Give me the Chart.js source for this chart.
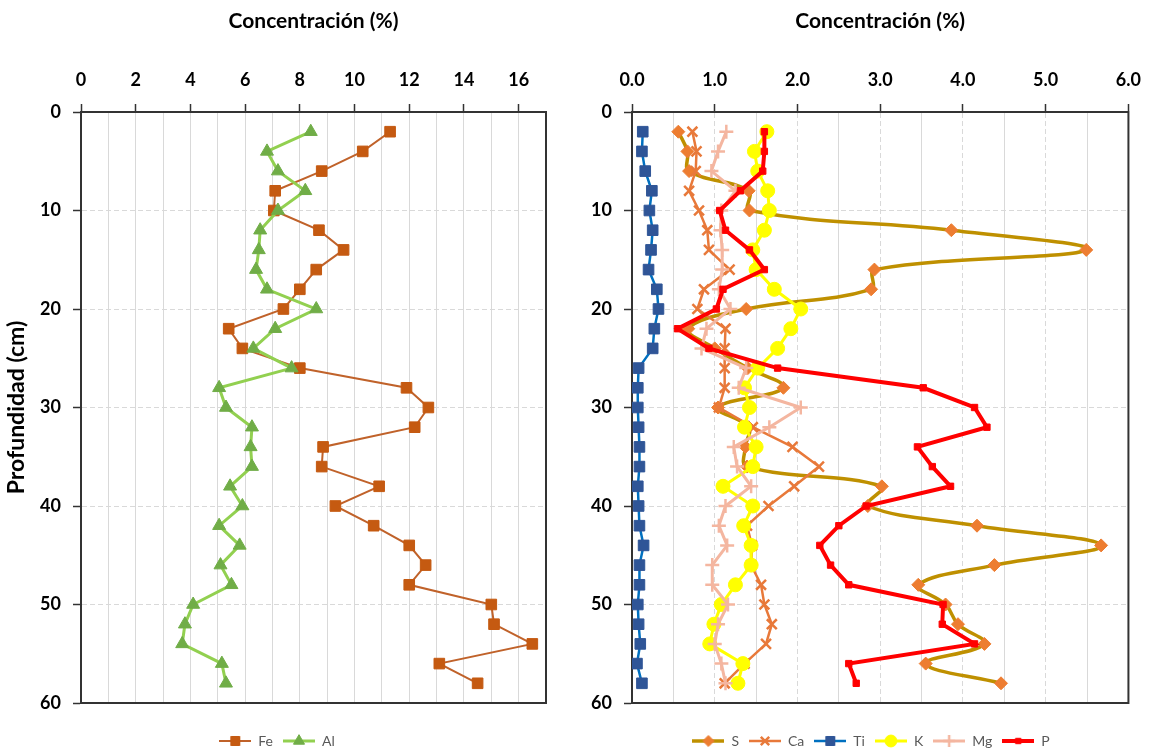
<!DOCTYPE html>
<html>
<head>
<meta charset="utf-8">
<title>Perfiles de concentración</title>
<script src="https://cdn.jsdelivr.net/npm/chart.js@4.4.1/dist/chart.umd.min.js"></script>
<style>
  html, body { margin: 0; padding: 0; background: #fff; }
  #wrap { position: relative; width: 1154px; height: 749px; }
  .panel { position: absolute; top: 0; width: 577px; height: 749px; }
</style>
</head>
<body>
<div id="wrap">
  <div class="panel" style="left:0"><canvas id="chartLeft"></canvas></div>
  <div class="panel" style="left:577px"><canvas id="chartRight"></canvas></div>
</div>
<script>
Chart.defaults.font.family = 'Lato, "Open Sans", sans-serif';
Chart.defaults.animation = false;

// profundidad de cada muestra (cm)
var depth = [2, 4, 6, 8, 10, 12, 14, 16, 18, 20, 22, 24, 26, 28, 30,
             32, 34, 36, 38, 40, 42, 44, 46, 48, 50, 52, 54, 56, 58];

// panel izquierdo (%)
var fe = [11.3, 10.3, 8.8, 7.1, 7.05, 8.7, 9.6, 8.6, 8.0, 7.4, 5.4, 5.9, 8.0, 11.9, 12.7,
          12.2, 8.85, 8.8, 10.9, 9.3, 10.7, 12.0, 12.6, 12.0, 15.0, 15.1, 16.5, 13.1, 14.5];
var al = [8.4, 6.8, 7.2, 8.2, 7.2, 6.55, 6.5, 6.4, 6.8, 8.6, 7.1, 6.3, 7.7, 5.05, 5.3,
          6.25, 6.2, 6.25, 5.45, 5.9, 5.05, 5.8, 5.1, 5.5, 4.1, 3.8, 3.7, 5.15, 5.3];

// panel derecho (%)
var s  = [0.56, 0.67, 0.69, 1.41, 1.42, 3.86, 5.49, 2.93, 2.89, 1.38, 0.68, 1.0, 1.40, 1.83, 1.04,
          1.41, 1.37, 1.39, 3.02, 2.85, 4.17, 5.67, 4.38, 3.46, 3.79, 3.94, 4.26, 3.55, 4.46];
var ca = [0.73, 0.78, 0.77, 0.69, 0.81, 0.91, 0.93, 1.18, 0.87, 0.79, 1.13, 1.12, 1.12, 1.12, 1.05,
          1.46, 1.94, 2.26, 1.96, 1.65, 1.39, 1.45, 1.44, 1.56, 1.60, 1.69, 1.62, 1.36, 1.12];
var ti = [0.13, 0.12, 0.16, 0.24, 0.21, 0.25, 0.23, 0.20, 0.30, 0.32, 0.27, 0.25, 0.08, 0.07, 0.07,
          0.08, 0.09, 0.09, 0.07, 0.08, 0.09, 0.14, 0.09, 0.09, 0.07, 0.08, 0.10, 0.06, 0.12];
var k  = [1.63, 1.48, 1.52, 1.64, 1.66, 1.60, 1.46, 1.50, 1.72, 2.04, 1.92, 1.76, 1.52, 1.36, 1.42,
          1.36, 1.50, 1.46, 1.10, 1.46, 1.35, 1.44, 1.44, 1.25, 1.08, 0.99, 0.94, 1.34, 1.28];
var mg = [1.14, 1.04, 0.96, 1.25, 1.08, 1.07, 1.09, 1.09, 1.05, 1.19, 0.90, 0.84, 1.38, 1.29, 2.04,
          1.66, 1.23, 1.27, 1.44, 1.13, 1.05, 1.15, 0.97, 0.97, 1.16, 1.04, 1.00, 1.08, 1.13];
var p  = [1.60, 1.60, 1.58, 1.31, 1.06, 1.13, 1.42, 1.60, 1.10, 1.02, 0.55, 0.93, 1.76, 3.52, 4.14,
          4.29, 3.45, 3.63, 3.85, 2.83, 2.50, 2.27, 2.40, 2.62, 3.76, 3.75, 4.14, 2.62, 2.71];

// etiquetas de los ejes
var ticksLeft = [0, 2, 4, 6, 8, 10, 12, 14, 16];
var ticksRight = [0, 1, 2, 3, 4, 5, 6];
var depthTicks = [0, 10, 20, 30, 40, 50, 60];

function serie(label, vals, color, marker, markerColor, width, radius, border) {
  return {
    label: label,
    data: depth.map(function (d, i) { return { x: vals[i], y: d }; }),
    showLine: true,
    borderColor: color,
    borderWidth: width,
    backgroundColor: markerColor,
    pointStyle: marker,
    pointRadius: radius,
    pointHoverRadius: radius,
    pointBackgroundColor: markerColor,
    pointBorderColor: markerColor,
    pointBorderWidth: border || 1,
    tension: 0
  };
}

// icono de leyenda estilo Excel: linea + marcador
function legendIcon(ds) {
  var c = document.createElement('canvas');
  c.width = 32; c.height = 16;
  var g = c.getContext('2d');
  g.strokeStyle = ds.borderColor;
  g.lineWidth = ds.borderWidth;
  g.beginPath(); g.moveTo(0, 8); g.lineTo(32, 8); g.stroke();
  g.fillStyle = ds.pointBackgroundColor;
  g.strokeStyle = ds.pointBorderColor;
  g.lineWidth = ds.pointBorderWidth;
  Chart.helpers.drawPoint(g, { pointStyle: ds.pointStyle, radius: ds.pointRadius * 0.85,
    borderWidth: ds.pointBorderWidth, rotation: 0 }, 16, 8);
  return c;
}

// marco del area de trazado
var frame = {
  id: 'frame',
  beforeDatasetsDraw: function (chart) {
    var a = chart.chartArea, ctx = chart.ctx;
    ctx.save();
    ctx.strokeStyle = '#333';
    ctx.lineWidth = 2;
    ctx.strokeRect(a.left, a.top, a.right - a.left, a.bottom - a.top);
    ctx.restore();
  }
};

// ajuste fino de la posicion de la leyenda
var legendOffset = {
  id: 'legendOffset',
  afterLayout: function (chart, args, opts) {
    var lg = chart.legend;
    lg.left += opts.dx; lg.right += opts.dx;
    lg.top += opts.dy; lg.bottom += opts.dy;
  }
};

function options(cfg) {
  var isMajor = function (v) { return cfg.labels.indexOf(v) >= 0; };
  return {
    responsive: true,
    maintainAspectRatio: false,
    layout: { padding: { left: 0, right: cfg.padRight, top: 0, bottom: 12 } },
    scales: {
      x: {
        type: 'linear', position: 'top', min: 0, max: cfg.xMax,
        ticks: {
          stepSize: cfg.xStep, autoSkip: false, maxRotation: 0, padding: 13,
          color: '#000', font: { size: 18, weight: 'bold' },
          callback: function (v) { return isMajor(v) ? cfg.fmt(v) : ''; }
        },
        grid: {
          color: '#d9d9d9', lineWidth: 1, tickLength: 8, tickWidth: 1.5,
          tickColor: function (c) { return c.tick && isMajor(c.tick.value) ? '#333' : 'rgba(0,0,0,0)'; }
        },
        border: {
          color: '#333', width: 2,
          dash: function (c) { return cfg.dashMajor && c.tick && isMajor(c.tick.value) ? [5, 3] : []; }
        },
        title: {
          display: true, text: 'Concentración (%)', color: '#000',
          font: { size: 21, weight: 'bold' }, padding: { top: 9, bottom: 30 }
        },
        afterFit: function (sc) { sc.height = 112; }
      },
      y: {
        type: 'linear', reverse: true, min: depthTicks[0], max: depthTicks[depthTicks.length - 1],
        ticks: { stepSize: 10, padding: 12, color: '#000', font: { size: 18, weight: 'bold' } },
        grid: { color: '#d9d9d9', lineWidth: 1, tickLength: 8, tickWidth: 1.5, tickColor: '#333' },
        border: { color: '#333', width: 2, dash: [5, 3] },
        title: {
          display: cfg.yTitle, text: 'Profundidad (cm)', color: '#000',
          font: { size: 23, weight: 'bold' }, padding: { top: 3, bottom: 0 }
        },
        afterFit: function (sc) { sc.width = cfg.yWidth; }
      }
    },
    plugins: {
      tooltip: { enabled: false },
      legendOffset: { dx: cfg.legendDx, dy: 21 },
      legend: {
        position: 'bottom',
        labels: {
          usePointStyle: true, pointStyleWidth: 32, padding: 10,
          color: '#595959', font: { size: 14 },
          sort: function (a, b) { return a.datasetIndex - b.datasetIndex; },
          generateLabels: function (chart) {
            var items = Chart.defaults.plugins.legend.labels.generateLabels(chart);
            items.forEach(function (it) {
              it.pointStyle = legendIcon(chart.data.datasets[it.datasetIndex]);
            });
            return items;
          }
        }
      }
    }
  };
}

// Excel pinta la ultima serie encima
function stack(list) {
  list.forEach(function (ds, i) { ds.order = list.length - i; });
  return list;
}

var leftSets = stack([
  serie('Fe', fe, '#C0622A', 'rect', '#C55A11', 2, 7.5),
  serie('Al', al, '#92D050', 'triangle', '#70AD47', 3, 7.5)
]);

var sSet = serie('S', s, '#BF9000', 'rectRot', '#ED7D31', 3.5, 6.5);
sSet.tension = 0.4;
var rightSets = stack([
  sSet,
  serie('Ca', ca, '#E8793A', 'crossRot', '#E8793A', 2.5, 7, 2.5),
  serie('Ti', ti, '#0070C0', 'rect', '#2F5597', 2.5, 7.5),
  serie('K', k, '#FFFF00', 'circle', '#FFFF00', 3, 7),
  serie('Mg', mg, '#F4B6A0', 'cross', '#F4B6A0', 3, 7, 2.5),
  serie('P', p, '#FF0000', 'rect', '#FF0000', 4, 4.5)
]);

new Chart(document.getElementById('chartLeft'), {
  type: 'scatter',
  data: { datasets: leftSets },
  options: options({ xMax: 17, xStep: 1, labels: ticksLeft, fmt: function (v) { return String(v); },
    dashMajor: false, yTitle: true, yWidth: 81, padRight: 31, legendDx: 4 }),
  plugins: [frame, legendOffset]
});

new Chart(document.getElementById('chartRight'), {
  type: 'scatter',
  data: { datasets: rightSets },
  options: options({ xMax: 6, xStep: 0.5, labels: ticksRight, fmt: function (v) { return v.toFixed(1); },
    dashMajor: true, yTitle: false, yWidth: 55, padRight: 17, legendDx: 14 }),
  plugins: [frame, legendOffset]
});
</script>
</body>
</html>
